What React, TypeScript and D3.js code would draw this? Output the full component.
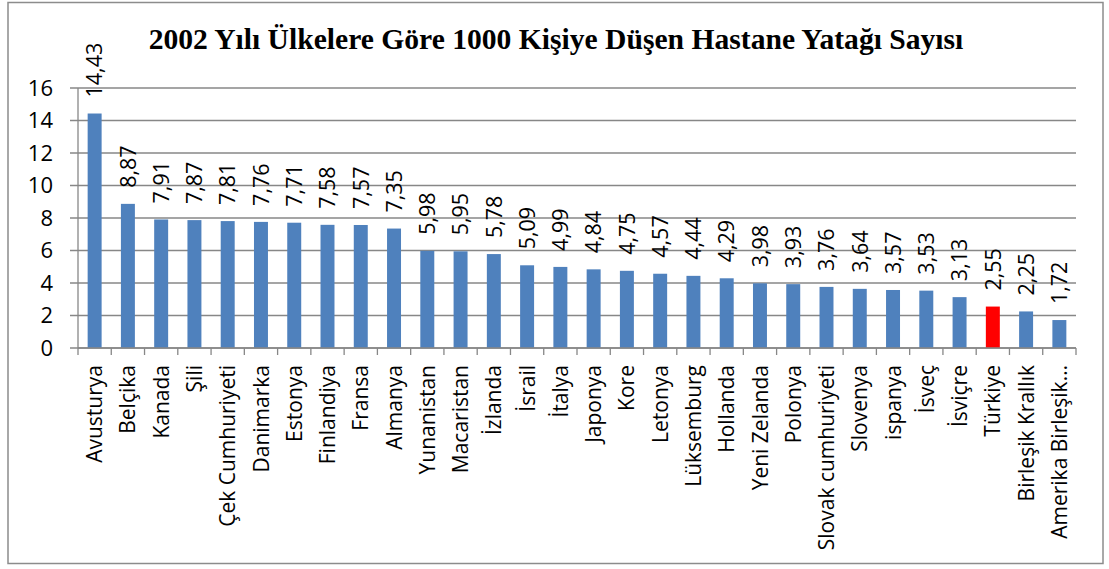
import { scaleBand, scaleLinear } from "d3"

const countries = [
  "Avusturya", "Belçika", "Kanada", "Şili", "Çek Cumhuriyeti", "Danimarka",
  "Estonya", "Finlandiya", "Fransa", "Almanya", "Yunanistan", "Macaristan",
  "İzlanda", "İsrail", "İtalya", "Japonya", "Kore", "Letonya", "Lüksemburg",
  "Hollanda", "Yeni Zelanda", "Polonya", "Slovak cumhuriyeti", "Slovenya",
  "ispanya", "İsveç", "İsviçre", "Türkiye", "Birleşik Krallık", "Amerika Birleşik…",
]
const beds = [
  14.43, 8.87, 7.91, 7.87, 7.81, 7.76, 7.71, 7.58, 7.57, 7.35, 5.98, 5.95,
  5.78, 5.09, 4.99, 4.84, 4.75, 4.57, 4.44, 4.29, 3.98, 3.93, 3.76, 3.64,
  3.57, 3.53, 3.13, 2.55, 2.25, 1.72,
]
const yTicks = [0, 2, 4, 6, 8, 10, 12, 14, 16]
const highlight = "Türkiye"

const W = 1109
const H = 569
const PLOT = { left: 78, right: 1076, top: 88, bottom: 348 }
const SANS = "'Open Sans', 'Noto Sans', sans-serif"
const GRID = "#878787"

export default function App() {
  const x = scaleBand<string>()
    .domain(countries)
    .range([PLOT.left, PLOT.right])
    .paddingInner(0.58)
    .paddingOuter(0.29)
  const y = scaleLinear().domain([0, 16]).range([PLOT.bottom, PLOT.top])
  const step = x.step()
  const bw = x.bandwidth()

  return (
    <svg
      width={W}
      height={H}
      viewBox={`0 0 ${W} ${H}`}
      style={{ position: "absolute", left: 0, top: 0, background: "#fff" }}
    >
      <rect x={8} y={2.5} width={1095} height={561} fill="#fff" stroke="#8c8c8c" strokeWidth={1.5} />

      <text
        x={556}
        y={49}
        textAnchor="middle"
        fontFamily="'Liberation Serif', 'Times New Roman', serif"
        fontWeight={700}
        fontSize={29.6}
        fill="#000"
      >
        2002 Yılı Ülkelere Göre 1000 Kişiye Düşen Hastane Yatağı Sayısı
      </text>

      {/* gridlines + y ticks */}
      {yTicks.map((t) => (
        <g key={t}>
          <line x1={PLOT.left - 8} x2={PLOT.right} y1={y(t)} y2={y(t)} stroke={GRID} strokeWidth={1.3} />
          <text
            x={53}
            y={y(t)}
            dy="0.36em"
            textAnchor="end"
            fontFamily={SANS}
            fontSize={22}
            fill="#000"
          >
            {t}
          </text>
        </g>
      ))}
      <line x1={PLOT.left} x2={PLOT.left} y1={PLOT.top} y2={PLOT.bottom} stroke={GRID} strokeWidth={1.3} />

      {/* category ticks */}
      {countries.map((c, i) => (
        <line
          key={c}
          x1={PLOT.left + step * (i + 1)}
          x2={PLOT.left + step * (i + 1)}
          y1={PLOT.bottom}
          y2={PLOT.bottom + 7}
          stroke={GRID}
          strokeWidth={1.3}
        />
      ))}
      <line x1={PLOT.left} x2={PLOT.left} y1={PLOT.bottom} y2={PLOT.bottom + 7} stroke={GRID} strokeWidth={1.3} />

      {/* bars */}
      {countries.map((c, i) => {
        const bx = x(c)
        if (bx === undefined) return null
        const cx = bx + bw / 2
        const top = y(beds[i])
        return (
          <g key={c}>
            <rect
              x={bx}
              y={top}
              width={bw}
              height={PLOT.bottom - top}
              fill={c === highlight ? "#ff0000" : "#4f81bd"}
            />
            <text
              transform={`translate(${cx},${top - 16}) rotate(-90)`}
              dy="0.36em"
              fontFamily={SANS}
              fontSize={21.5}
              fill="#000"
            >
              {beds[i].toFixed(2).replace(".", ",")}
            </text>
            <text
              transform={`translate(${cx},${365}) rotate(-90)`}
              dy="0.36em"
              textAnchor="end"
              fontFamily={SANS}
              fontSize={21}
              fill="#000"
            >
              {c}
            </text>
          </g>
        )
      })}
      <line x1={PLOT.left} x2={PLOT.right} y1={PLOT.bottom} y2={PLOT.bottom} stroke={GRID} strokeWidth={1.3} />
    </svg>
  )
}
